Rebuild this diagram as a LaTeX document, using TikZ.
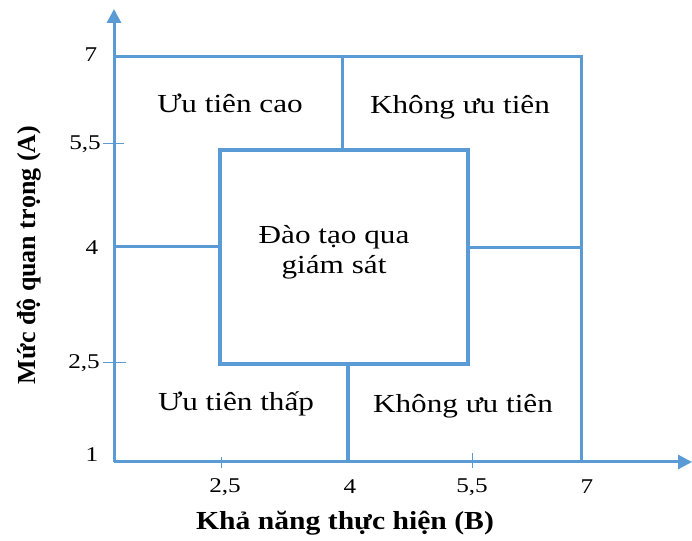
\documentclass[tikz,border=0pt]{standalone}
\usepackage{fontspec}
\setmainfont{Liberation Serif}
\usetikzlibrary{arrows.meta}
\definecolor{lb}{HTML}{5B9BD5}
\begin{document}
\begin{tikzpicture}[x=1pt,y=1pt,
  axis/.style={draw=lb,line width=3pt,-{Triangle[width=14pt,length=14pt]}},
  frame/.style={draw=lb,line width=3pt},
  inner/.style={draw=lb,line width=4pt},
  tickl/.style={draw=lb,line width=1pt},
  lbl/.style={font=\fontsize{26}{30}\selectfont,align=center,xscale=1.2},
  tk/.style={font=\fontsize{21}{24}\selectfont,xscale=1.2},
  ttl/.style={font=\fontsize{26}{30}\selectfont\bfseries}]
\useasboundingbox (0,0) rectangle (692,540);
% coordinates
\coordinate (O) at (114,78);
\coordinate (ytip) at (114,531);
\coordinate (xtip) at (692,78);
\coordinate (tl) at (114,483);
\coordinate (tr) at (581,483);
\coordinate (br) at (581,78);
\coordinate (topdivA) at (342,483);
\coordinate (topdivB) at (342,390);
\coordinate (botdivA) at (348,176);
\coordinate (botdivB) at (348,78);
\coordinate (midL) at (114,293);
\coordinate (midLb) at (220,293);
\coordinate (midR) at (468,292);
\coordinate (midRb) at (581,292);
% frame
\draw[frame] (tl) -- (tr) -- (br);
\draw[frame] (topdivA) -- (topdivB);
\draw[frame] (midL) -- (midLb);
\draw[frame] (midR) -- (midRb);
\draw[inner] (botdivA) -- (botdivB);
\draw[inner] (220,390) rectangle (468,176);
% axes
\draw[axis] (O) -- (ytip);
\draw[axis] (O) -- (xtip);
% ticks
\draw[tickl] (103,396) -- (124,396);
\draw[tickl] (103,177) -- (126,177);
\draw[tickl] (221,83) -- (221,72);
\draw[tickl] (472,87) -- (472,72);
% tick labels
\node[tk] (y7) at (91,485) {7};
\node[tk,anchor=east] (y55) at (105,396) {5,5};
\node[tk] (y4) at (92,292) {4};
\node[tk,anchor=east] (y25) at (104,177) {2,5};
\node[tk] (y1) at (92,85) {1};
\node[tk] (x25) at (225,53) {2,5};
\node[tk] (x4) at (350,53) {4};
\node[tk] (x55) at (472,53) {5,5};
\node[tk] (x7) at (587,53) {7};
% region labels
\node[lbl] (uc) at (230,437) {Ưu tiên cao};
\node[lbl] (ku1) at (460,433) {Không ưu tiên};
\node[lbl] (dt) at (334,288) {Đào tạo qua\\giám sát};
\node[lbl] (ut) at (236,136) {Ưu tiên thấp};
\node[lbl] (ku2) at (463,134) {Không ưu tiên};
% axis titles
\node[ttl,xscale=1.14] (bt) at (345,17) {Khả năng thực hiện (B)};
\node[ttl,rotate=90] (at) at (29,285) {Mức độ quan trọng (A)};
\end{tikzpicture}
\end{document}
